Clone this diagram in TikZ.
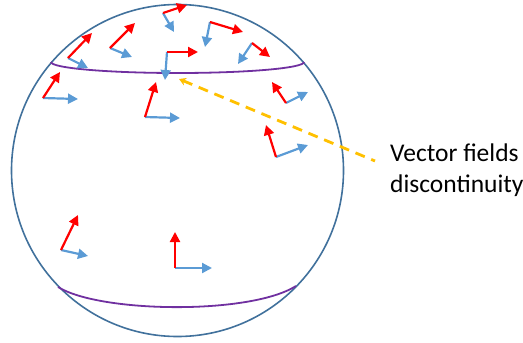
\documentclass[tikz,border=0pt]{standalone}
\usepackage{fontspec}
\setmainfont{Carlito}
\usetikzlibrary{arrows.meta}
\definecolor{vred}{HTML}{FF0000}
\definecolor{vblue}{HTML}{5B9BD5}
\definecolor{sphere}{HTML}{41719C}
\definecolor{seam}{HTML}{7030A0}
\definecolor{callout}{HTML}{FFC000}
\tikzset{
  redvec/.style={draw=vred, line width=2.2pt, -{Triangle[length=10pt,width=10pt]}},
  bluevec/.style={draw=vblue, line width=2.2pt, -{Triangle[length=10pt,width=10pt]}},
  spherestyle/.style={draw=sphere, line width=1.6pt},
  seamstyle/.style={draw=seam, line width=1.8pt},
  calloutline/.style={draw=callout, line width=2.8pt, dash pattern=on 10pt off 7pt, {Stealth[length=7pt,width=8pt]}-},
  label/.style={font=\fontsize{25.5pt}{30.5pt}\selectfont, align=left, inner sep=0pt}
}
\newcommand{\vpair}[7]{%
  \coordinate (#1b) at (#2,#3);
  \coordinate (#1r) at (#4,#5);
  \coordinate (#1u) at (#6,#7);
  \draw[bluevec] (#1b) -- (#1u);
  \draw[redvec] (#1b) -- (#1r);
}
\begin{document}
\begin{tikzpicture}[x=1pt,y=-1pt]
\useasboundingbox (0,0) rectangle (523,343);
% sphere
\node[spherestyle, circle, minimum size=332pt, inner sep=0pt] (sph) at (177.5,170.5) {};
% seams
\draw[seamstyle] (51,62) arc[start angle=180, end angle=0, x radius=126.5, y radius=11];
\draw[seamstyle] (58,287) .. controls (100,313) and (250,315) .. (296,286);
% vector pairs
\vpair{A}{68}{58}{92}{33}{88}{68}
\vpair{B}{110}{48}{135}{23}{132}{57}
\vpair{C}{43}{98}{60}{72}{78}{99}
\vpair{D}{145}{117}{156}{82}{180}{118}
\vpair{E}{163}{13}{187}{5}{174}{32}
\vpair{F}{210}{22}{243}{32}{205}{47}
\vpair{G}{167}{52}{198}{52}{165}{80}
\vpair{H}{252}{43}{270}{57}{238}{64}
\vpair{I}{286}{103}{272}{82}{308}{92}
\vpair{J}{276}{157}{266}{125}{308}{145}
\vpair{K}{61}{250}{78}{215}{88}{256}
\vpair{L}{175}{268}{175}{232}{212}{268}
% callout
\node[label, anchor=base west] (txt) at (390,192) {Vector fields\\discontinuity};
\coordinate (cend) at (375,161);
\coordinate (cstart) at (179,79);
\draw[calloutline] (cstart) -- (cend);
\end{tikzpicture}
\end{document}
